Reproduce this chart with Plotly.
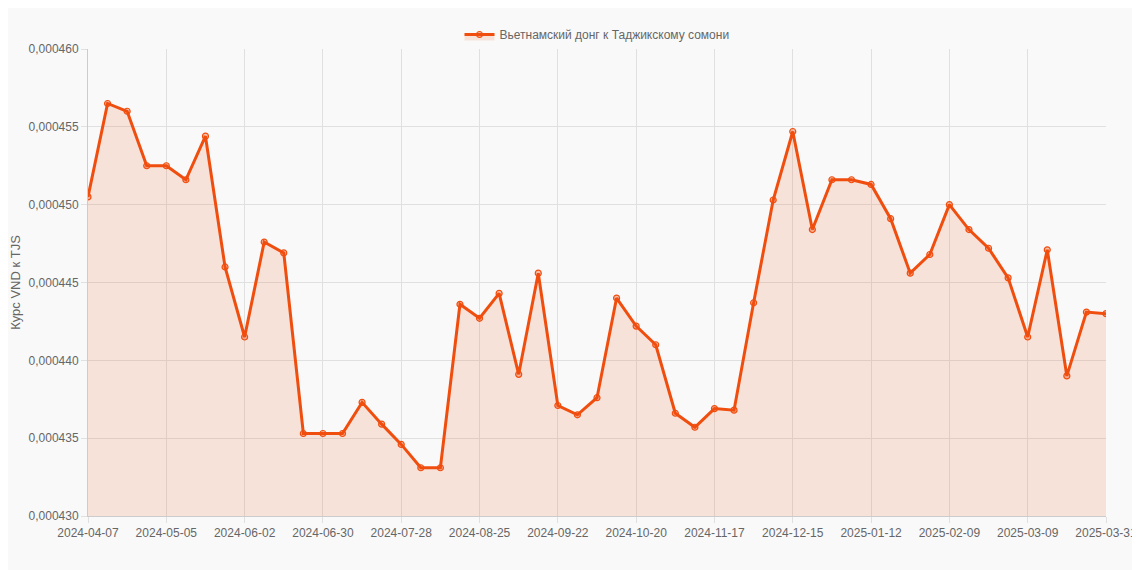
import plotly.graph_objects as go
import pandas as pd

dates = [d.strftime('%Y-%m-%d') for d in pd.date_range('2024-04-07', periods=52, freq='7D')] + ['2025-03-31']
rates = [0.0004505, 0.0004565, 0.0004560, 0.0004525, 0.0004525, 0.0004516, 0.0004544, 0.0004460,
         0.0004415, 0.0004476, 0.0004469, 0.0004353, 0.0004353, 0.0004353, 0.0004373, 0.0004359,
         0.0004346, 0.0004331, 0.0004331, 0.0004436, 0.0004427, 0.0004443, 0.0004391, 0.0004456,
         0.0004371, 0.0004365, 0.0004376, 0.0004440, 0.0004422, 0.0004410, 0.0004366, 0.0004357,
         0.0004369, 0.0004368, 0.0004437, 0.0004503, 0.0004547, 0.0004484, 0.0004516, 0.0004516,
         0.0004513, 0.0004491, 0.0004456, 0.0004468, 0.0004500, 0.0004484, 0.0004472, 0.0004453,
         0.0004415, 0.0004471, 0.0004390, 0.0004431, 0.0004430]

x = list(range(len(dates)))
fig = go.Figure()
fig.add_trace(go.Scatter(
    x=x, y=rates, mode='lines+markers', name='Вьетнамский донг к Таджикскому сомони',
    line=dict(color='#f04e0f', width=3),
    marker=dict(size=6, color='rgba(240,78,15,0.35)', line=dict(color='#f04e0f', width=1.2)),
    fill='tozeroy', fillcolor='rgba(240,78,15,0.13)'))

fig.update_layout(
    width=1140, height=570, paper_bgcolor='#f9f9f9', plot_bgcolor='#f9f9f9',
    margin=dict(l=80, r=42, t=24, b=62),
    font=dict(family='Arial, Liberation Sans', size=12, color='#666'),
    separators=', ',
    showlegend=True,
    legend=dict(orientation='h', x=0.5, xanchor='center', y=1.0, yanchor='bottom',
                font=dict(size=12, color='#666')),
    xaxis=dict(range=[0, 52], tickvals=x[::4], ticktext=dates[::4], showgrid=True,
               gridcolor='#e0e0e0', showline=True, linecolor='#ccc', ticks='outside',
               tickcolor='#e0e0e0', ticklen=6, zeroline=False, automargin=False),
    yaxis=dict(range=[0.00043, 0.00046], dtick=0.000005, tickformat='.6f', showgrid=True,
               gridcolor='#e0e0e0', showline=True, linecolor='#ccc', ticks='outside',
               tickcolor='#e0e0e0', ticklen=6, zeroline=False, automargin=False,
               title=dict(text='Курс VND к TJS', font=dict(size=13, color='#666'), standoff=8)),
)

fig.write_html('out.html')
